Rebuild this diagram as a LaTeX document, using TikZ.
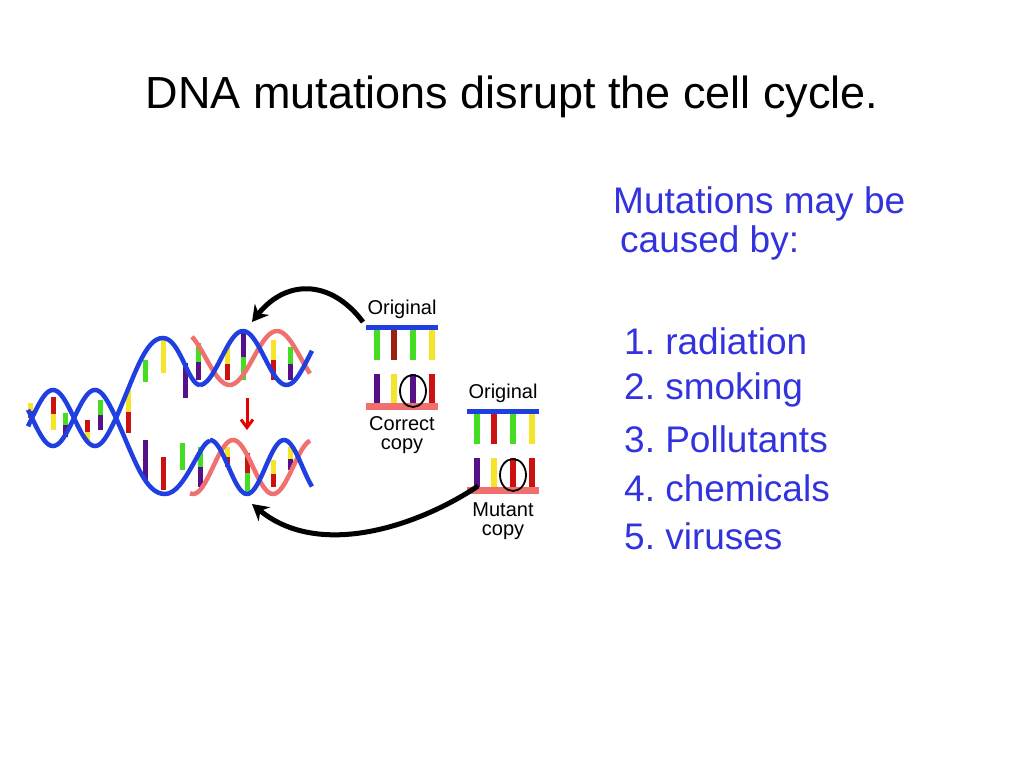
\documentclass[tikz,border=0pt]{standalone}
\usepackage{fontspec}
\setmainfont{Liberation Sans}
\usetikzlibrary{arrows.meta}
\frenchspacing
\definecolor{dblue}{HTML}{1F3FE0}
\definecolor{pinkc}{HTML}{F07070}
\definecolor{txtblue}{HTML}{3333DD}
\definecolor{gg}{HTML}{44DD22}
\definecolor{yy}{HTML}{F5E52A}
\definecolor{rr}{HTML}{CC1111}
\definecolor{pp}{HTML}{551188}
\definecolor{dr}{HTML}{992211}
\tikzset{
 strand/.style={dblue,line width=4.5pt},
 pstrand/.style={pinkc,line width=4.5pt},
 lbl/.style={font=\fontsize{20}{22}\selectfont,inner sep=0},
 item/.style={txtblue,anchor=west,font=\fontsize{37}{40}\selectfont,inner sep=0},
 bigarrow/.style={black,line width=5pt,-{Stealth[length=16pt,width=18pt]}}
}
\newcommand{\bp}[5]{% x y1 y2 topcolor bottomcolor
 \fill[#4] ({#1-2.5},#2) rectangle ({#1+2.5},{(#2+#3)/2});
 \fill[#5] ({#1-2.5},{(#2+#3)/2}) rectangle ({#1+2.5},#3);}
\newcommand{\sbar}[4]{\fill[#4] ({#1-3},#2) rectangle ({#1+3},#3);}
\begin{document}
\begin{tikzpicture}[x=1pt,y=-1pt]
\useasboundingbox (0,0) rectangle (1024,768);
\node[font=\fontsize{45}{50}\selectfont] (title) at (512,97) {DNA mutations disrupt the cell cycle.};
\node[item] (m1) at (613,204) {Mutations may be};
\node[item] (m2) at (620,243) {caused by:};
\node[item] (i1) at (624,341) {1. radiation};
\node[item] (i2) at (624,390) {2. smoking};
\node[item] (i3) at (624,439) {3. Pollutants};
\node[item] (i4) at (624,488) {4. chemicals};
\node[item] (i5) at (624,536) {5. viruses};
% base pairs
\bp{30}{403}{418}{yy}{rr}
\bp{53}{397}{430}{rr}{yy}
\bp{65}{413}{437}{gg}{pp}
\bp{87}{420}{443}{rr}{yy}
\bp{100}{400}{430}{gg}{pp}
\bp{128}{390}{433}{yy}{rr}
\bp{145}{360}{382}{gg}{gg}
\bp{163}{340}{373}{yy}{yy}
\bp{185}{363}{398}{pp}{pp}
\bp{198}{343}{380}{gg}{pp}
\bp{227}{347}{380}{yy}{rr}
\bp{243}{333}{380}{pp}{gg}
\bp{273}{340}{380}{yy}{rr}
\bp{290}{347}{380}{gg}{pp}
\bp{145}{440}{480}{pp}{pp}
\bp{163}{457}{490}{rr}{rr}
\bp{182}{443}{470}{gg}{gg}
\bp{200}{447}{487}{gg}{pp}
\bp{227}{447}{467}{yy}{rr}
\bp{247}{453}{493}{rr}{gg}
\bp{273}{460}{487}{yy}{rr}
\bp{290}{447}{470}{yy}{pp}
% pink strands
\draw[pstrand] plot[domain=192:310,samples=60] (\x,{358-27*cos(360/95*(\x-277))});
\draw[pstrand] plot[domain=190:310,samples=60] (\x,{467-27*cos(360/80*(\x-233))});
% blue strands
\draw[strand] plot[domain=28:116,samples=60] (\x,{418-28*cos(360/84*(\x-53))});
\draw[strand] plot[domain=28:116,samples=60] (\x,{418+28*cos(360/84*(\x-53))});
\draw[strand] (116,418) .. controls (135,375) and (145,338) .. (163,338) .. controls (180,338) and (188,385) .. (200,385);
\draw[strand] plot[domain=200:312,samples=60] (\x,{358-27*cos(360/87*(\x-243))});
\draw[strand] (116,418) .. controls (135,460) and (145,494) .. (165,494) .. controls (185,494) and (200,441) .. (210,441);
\draw[strand] plot[domain=210:312,samples=60] (\x,{467+27*cos(360/74*(\x-247))});
% red arrow
\coordinate (ra1) at (247,398); \coordinate (ra2) at (247,430);
\draw[red!90!black,line width=3pt,-{Straight Barb[length=8pt,width=12pt,line width=3pt]}] (ra1) -- (ra2);
% panel 1
\node[lbl] (o1) at (402,309) {Original};
\fill[dblue] (366,325) rectangle (438,330);
\sbar{377}{330}{360}{gg}\sbar{394}{330}{360}{dr}\sbar{413}{330}{360}{gg}\sbar{432}{330}{360}{yy}
\sbar{377}{374}{404}{pp}\sbar{394}{374}{404}{yy}\sbar{413}{374}{404}{pp}\sbar{432}{374}{404}{rr}
\fill[pinkc] (366,403) rectangle (438,410);
\draw[line width=1.8pt] (413,391) ellipse (13 and 16);
\node[lbl] (c1) at (402,424) {Correct};
\node[lbl] (c2) at (402,446) {copy};
% panel 2
\node[lbl] (o2) at (503,393) {Original};
\fill[dblue] (467,409) rectangle (539,414);
\sbar{477}{414}{444}{gg}\sbar{494}{414}{444}{rr}\sbar{513}{414}{444}{gg}\sbar{532}{414}{444}{yy}
\sbar{477}{458}{488}{pp}\sbar{494}{458}{488}{yy}\sbar{513}{458}{488}{rr}\sbar{532}{458}{488}{rr}
\fill[pinkc] (467,487) rectangle (539,494);
\draw[line width=1.8pt] (513,475) ellipse (13 and 16);
\node[lbl] (t1) at (503,510) {Mutant};
\node[lbl] (t2) at (503,532) {copy};
% big arrows
\coordinate (a1s) at (363,322); \coordinate (a1e) at (252,322);
\draw[bigarrow] (a1s) .. controls (330,278) and (285,280) .. (a1e);
\coordinate (a2s) at (478,486); \coordinate (a2e) at (252,504);
\draw[bigarrow] (a2s) .. controls (420,525) and (320,560) .. (a2e);
\end{tikzpicture}
\end{document}
